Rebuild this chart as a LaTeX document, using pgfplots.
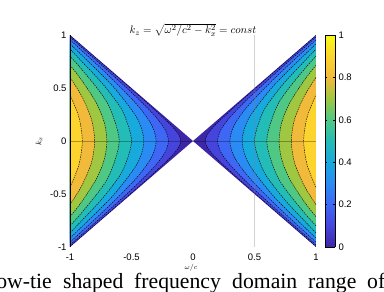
\documentclass[border=0pt]{standalone}
\usepackage{fontspec}
\setmainfont{Liberation Sans}
\newfontfamily\capfont{Liberation Serif}
\usepackage{pgfplots}
\usepackage{pgfplotstable}
\pgfplotsset{compat=1.18}
\definecolor{b0}{RGB}{62,38,168}
\definecolor{b1}{RGB}{69,69,221}
\definecolor{b2}{RGB}{62,103,245}
\definecolor{b3}{RGB}{43,139,244}
\definecolor{b4}{RGB}{24,169,221}
\definecolor{b5}{RGB}{36,188,182}
\definecolor{b6}{RGB}{78,200,132}
\definecolor{b7}{RGB}{159,199,66}
\definecolor{b8}{RGB}{242,186,58}
\definecolor{b9}{RGB}{252,212,45}
\pgfplotsset{
  colormap={parulacont}{rgb255=(62,38,168) rgb255=(69,69,221) rgb255=(62,103,245) rgb255=(43,139,244) rgb255=(24,169,221) rgb255=(36,188,182) rgb255=(78,200,132) rgb255=(159,199,66) rgb255=(242,186,58) rgb255=(252,212,45) rgb255=(249,251,21)},
}
\tikzset{
  cline/.style={black, line width=0.45pt, dash pattern=on 1.4pt off 1pt, smooth, tension=0.5},
  band/.style={fill=#1, draw=none, smooth, tension=0.5},
}
% contour levels 0.1 ... 0.9 (right branch x>0; left branch mirrored)
\pgfplotstableread{
x y
1 -0.995
0.6132 -0.6050
0.3762 -0.3627
0.2352 -0.2129
0.1543 -0.1175
0.1128 -0.0521
0.1 0
0.1128 0.0521
0.1543 0.1175
0.2352 0.2129
0.3762 0.3627
0.6132 0.6050
1 0.995
}\cA
\pgfplotstableread{
x y
1 -0.9798
0.7524 -0.7254
0.4705 -0.4259
0.3086 -0.2350
0.2255 -0.1042
0.2 0
0.2255 0.1042
0.3086 0.2350
0.4705 0.4259
0.7524 0.7254
1 0.9798
}\cB
\pgfplotstableread{
x y
1 -0.9539
0.7057 -0.6388
0.4629 -0.3526
0.3383 -0.1563
0.3 0
0.3383 0.1563
0.4629 0.3526
0.7057 0.6388
1 0.9539
}\cC
\pgfplotstableread{
x y
1 -0.9165
0.7554 -0.6408
0.6172 -0.4701
0.4510 -0.2084
0.4 0
0.4510 0.2084
0.6172 0.4701
0.7554 0.6408
1 0.9165
}\cD
\pgfplotstableread{
x y
1 -0.866
0.7716 -0.5876
0.6474 -0.4112
0.5638 -0.2606
0.5 0
0.5638 0.2606
0.6474 0.4112
0.7716 0.5876
1 0.866
}\cE
\pgfplotstableread{
x y
1 -0.8
0.9259 -0.7051
0.7768 -0.4934
0.6766 -0.3127
0.6 0
0.6766 0.3127
0.7768 0.4934
0.9259 0.7051
1 0.8
}\cF
\pgfplotstableread{
x y
1 -0.7141
0.9063 -0.5756
0.7893 -0.3648
0.7220 -0.1768
0.7 0
0.7220 0.1768
0.7893 0.3648
0.9063 0.5756
1 0.7141
}\cG
\pgfplotstableread{
x y
1 -0.6
0.9021 -0.4169
0.8251 -0.2021
0.8 0
0.8251 0.2021
0.9021 0.4169
1 0.6
}\cH
\pgfplotstableread{
x y
1 -0.4359
0.9283 -0.2273
0.9 0
0.9283 0.2273
1 0.4359
}\cI
\begin{document}
\begin{tikzpicture}
\useasboundingbox (0,0) rectangle (384pt,292pt);
\begin{axis}[
  at={(70pt,45pt)}, anchor=south west,
  width=246pt, height=212pt, scale only axis,
  xmin=-1, xmax=1, ymin=-1, ymax=1,
  axis lines*=left,
  axis line style={-},
  x axis line style={draw=none},
  y axis line style={black, line width=0.6pt},
  major tick length=0pt,
  xtick={-1,-0.5,0,0.5,1}, ytick={-1,-0.5,0,0.5,1},
  /pgf/number format/assume math mode=true,
  tick label style={font=\fontsize{9.5}{10}\selectfont},
  xticklabel style={yshift=-3pt},
  clip=false,
  axis on top,
]
% filled bands (value >= level), right then left
\addplot[fill=b0, draw=none] coordinates {(0,0)(1,-1)(1,1)};
\addplot[fill=b0, draw=none] coordinates {(0,0)(-1,-1)(-1,1)};
\addplot[band=b1] table[x=x,y=y] {\cA};
\addplot[band=b1] table[x expr=-\thisrow{x},y=y] {\cA};
\addplot[band=b2] table[x=x,y=y] {\cB};
\addplot[band=b2] table[x expr=-\thisrow{x},y=y] {\cB};
\addplot[band=b3] table[x=x,y=y] {\cC};
\addplot[band=b3] table[x expr=-\thisrow{x},y=y] {\cC};
\addplot[band=b4] table[x=x,y=y] {\cD};
\addplot[band=b4] table[x expr=-\thisrow{x},y=y] {\cD};
\addplot[band=b5] table[x=x,y=y] {\cE};
\addplot[band=b5] table[x expr=-\thisrow{x},y=y] {\cE};
\addplot[band=b6] table[x=x,y=y] {\cF};
\addplot[band=b6] table[x expr=-\thisrow{x},y=y] {\cF};
\addplot[band=b7] table[x=x,y=y] {\cG};
\addplot[band=b7] table[x expr=-\thisrow{x},y=y] {\cG};
\addplot[band=b8] table[x=x,y=y] {\cH};
\addplot[band=b8] table[x expr=-\thisrow{x},y=y] {\cH};
\addplot[band=b9] table[x=x,y=y] {\cI};
\addplot[band=b9] table[x expr=-\thisrow{x},y=y] {\cI};
% contour lines
\addplot[cline] table[x=x,y=y] {\cA};
\addplot[cline] table[x expr=-\thisrow{x},y=y] {\cA};
\addplot[cline] table[x=x,y=y] {\cB};
\addplot[cline] table[x expr=-\thisrow{x},y=y] {\cB};
\addplot[cline] table[x=x,y=y] {\cC};
\addplot[cline] table[x expr=-\thisrow{x},y=y] {\cC};
\addplot[cline] table[x=x,y=y] {\cD};
\addplot[cline] table[x expr=-\thisrow{x},y=y] {\cD};
\addplot[cline] table[x=x,y=y] {\cE};
\addplot[cline] table[x expr=-\thisrow{x},y=y] {\cE};
\addplot[cline] table[x=x,y=y] {\cF};
\addplot[cline] table[x expr=-\thisrow{x},y=y] {\cF};
\addplot[cline] table[x=x,y=y] {\cG};
\addplot[cline] table[x expr=-\thisrow{x},y=y] {\cG};
\addplot[cline] table[x=x,y=y] {\cH};
\addplot[cline] table[x expr=-\thisrow{x},y=y] {\cH};
\addplot[cline] table[x=x,y=y] {\cI};
\addplot[cline] table[x expr=-\thisrow{x},y=y] {\cI};
% faint reference lines
\addplot[black, opacity=0.3, line width=0.5pt] coordinates {(-1,0)(1,0)};
\addplot[gray, opacity=0.35, line width=0.6pt] coordinates {(0.5,-1)(0.5,1)};
\end{axis}
% colorbar
\begin{axis}[
  at={(325pt,45pt)}, anchor=south west,
  width=10pt, height=212pt, scale only axis,
  xmin=0, xmax=1, ymin=0, ymax=1,
  view={0}{90},
  colormap name=parulacont,
  point meta min=0, point meta max=1,
  xtick=\empty, ytick={0,0.2,0.4,0.6,0.8,1},
  yticklabel pos=right,
  tick align=inside, major tick length=2pt,
  tick style={black, line width=0.5pt},
  axis line style={black, line width=0.6pt},
  /pgf/number format/assume math mode=true,
  tick label style={font=\fontsize{9.5}{10}\selectfont},
]
\addplot3[surf, shader=interp, mesh/cols=2] coordinates {(0,0,0) (1,0,0) (0,1,1) (1,1,1)};
\end{axis}
% title and labels
\node at (193pt,262pt) {\fontsize{11}{12}\selectfont $k_z=\sqrt{\omega^2/c^2-k_x^2}=const$};
\node[rotate=90] at (39pt,151pt) {\fontsize{8}{9}\selectfont $k_x$};
\node at (191pt,24pt) {\fontsize{7}{8}\selectfont $\omega/c$};
% caption fragment
\begin{scope}[every node/.style={inner sep=0pt, font=\capfont\fontsize{21.7}{24}\selectfont}]
\node[anchor=base east] at (52pt,3pt) {Bow-tie};
\node[anchor=base west] at (63pt,3pt) {shaped};
\node[anchor=base west] at (134pt,3pt) {frequency};
\node[anchor=base west] at (232pt,3pt) {domain};
\node[anchor=base west] at (308pt,3pt) {range};
\node[anchor=base west] at (367pt,3pt) {of};
\end{scope}
\end{tikzpicture}
\end{document}
